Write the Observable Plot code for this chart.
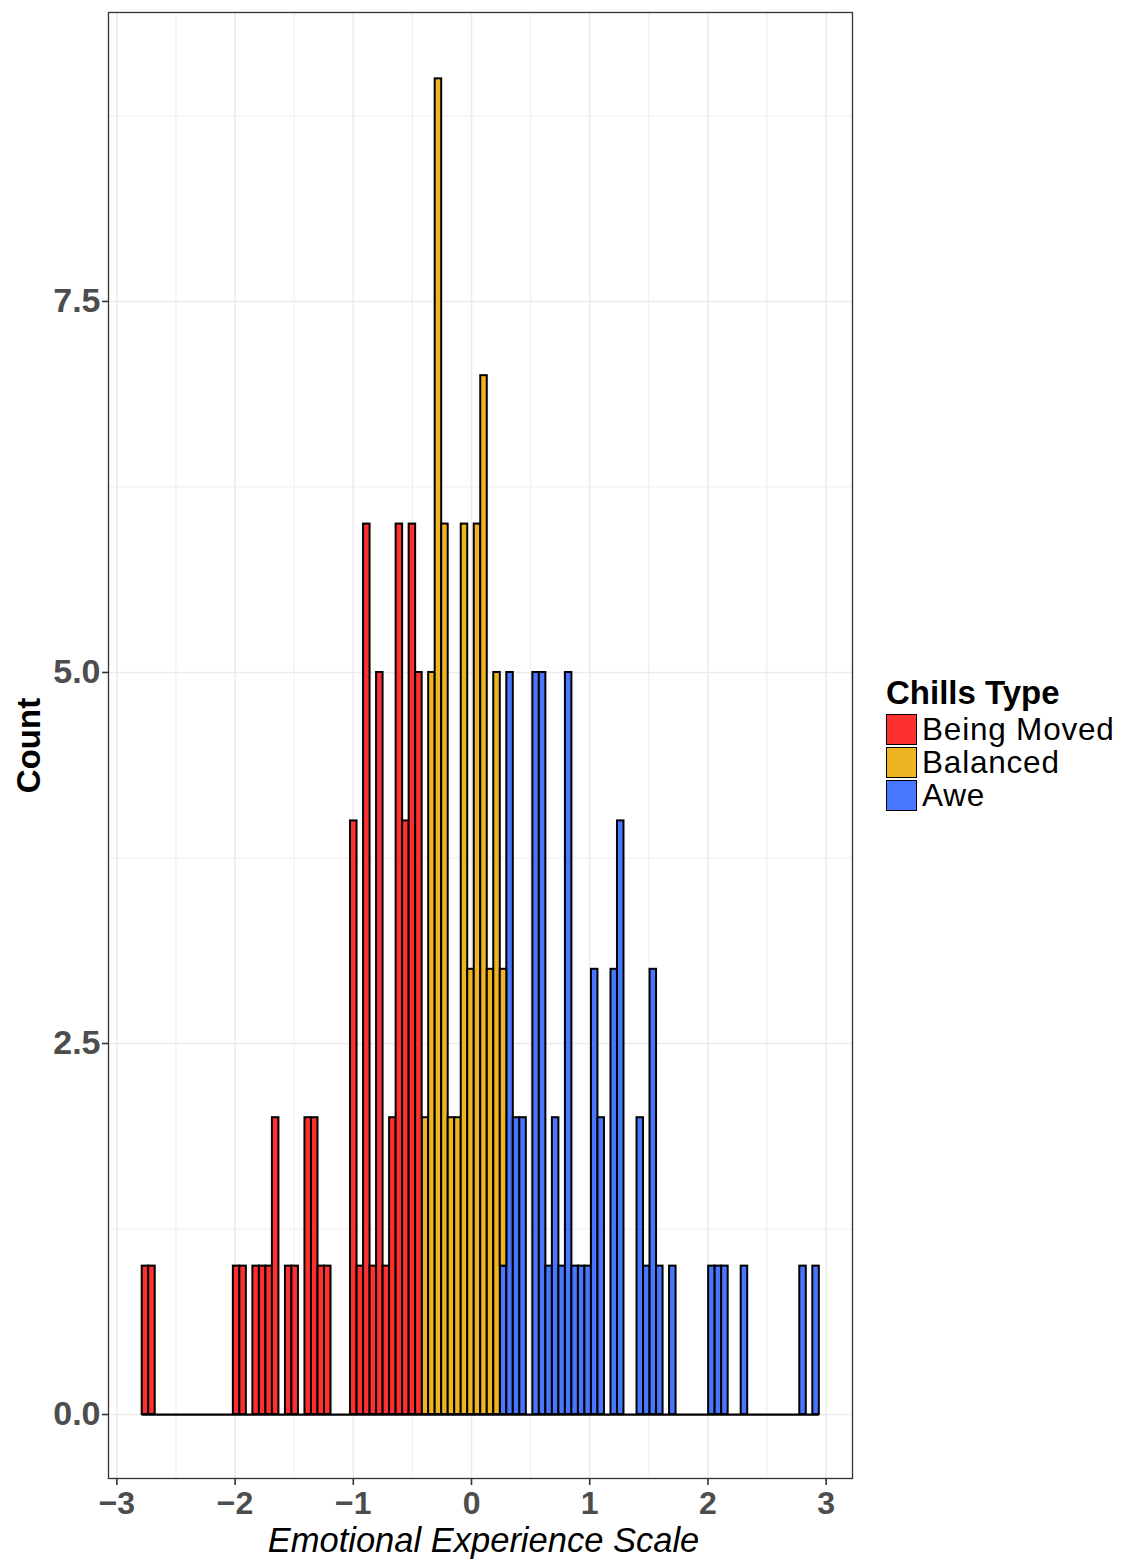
<!DOCTYPE html>
<html>
<head>
<meta charset="utf-8">
<script src="https://cdn.jsdelivr.net/npm/d3@7"></script>
<script src="https://cdn.jsdelivr.net/npm/@observablehq/plot@0.6"></script>
<style>
  html, body { margin: 0; padding: 0; background: #ffffff; }
  #wrap { position: relative; width: 1129px; height: 1560px; font-family: "Liberation Sans", Arial, Helvetica, sans-serif; }
  #chart svg { display: block; }
  #legend { position: absolute; left: 886px; top: 673px; color: #000; }
  #legend .title { font-weight: bold; font-size: 33px; line-height: 40px; height: 40px; white-space: nowrap; }
  #legend .item { display: flex; align-items: center; height: 33px; }
  #legend .key { width: 29px; height: 29px; border: 1.5px solid #000; box-sizing: content-box; margin-right: 5px; }
  #legend .lab { font-size: 31.5px; line-height: 31px; letter-spacing: 0.8px; white-space: nowrap; }
</style>
</head>
<body>
<div id="wrap">
  <div id="chart"></div>
  <div id="legend"></div>
</div>
<script>
// ---- Data ----
const groups = ["Being Moved", "Balanced", "Awe"];
const groupColors = ["#FF3030", "#EEB422", "#4876FF"];
const binStart = -2.786;     // left edge of first bin
const binWidth = 0.05508;    // bin width
const binCount = 104;        // total bins drawn (zero bins form baseline)

// counts per group, beginning at a given bin index
const movedFirstBin = 0;
const movedCounts = [1,1,0,0,0,0,0,0,0,0,0,0,0,0,1,1,0,1,1,1,2,0,1,1,0,2,2,1,1,0,0,0,4,1,6,1,5,1,2,6,4,6,5];
const balancedFirstBin = 43;
const balancedCounts = [2,5,9,6,2,2,6,3,6,7,3,5,2];
const aweFirstBin = 55;
const aweCounts = [1,5,2,2,0,5,5,1,2,1,5,1,1,1,3,2,0,3,4,0,0,2,1,3,1,0,1,0,0,0,0,0,1,1,1,0,0,1,0,0,0,0,0,0,0,0,1,0,1];

const xTicks = [-3, -2, -1, 0, 1, 2, 3];
const yTicks = [0, 2.5, 5, 7.5];
const xMinor = [-2.5, -1.5, -0.5, 0.5, 1.5, 2.5];
const yMinor = [1.25, 3.75, 6.25, 8.75];
const xTitle = "Emotional Experience Scale";
const yTitle = "Count";
const legendTitle = "Chills Type";

// ---- Build stacked rect table (Awe bottom, Balanced, Being Moved top) ----
const series = [
  {name: "Awe", first: aweFirstBin, counts: aweCounts},
  {name: "Balanced", first: balancedFirstBin, counts: balancedCounts},
  {name: "Being Moved", first: movedFirstBin, counts: movedCounts}
];
const stackTop = new Array(binCount).fill(0);
const bars = [];
for (const s of series) {
  s.counts.forEach((c, j) => {
    const b = s.first + j;
    if (c > 0) {
      bars.push({
        group: s.name,
        x1: binStart + b * binWidth,
        x2: binStart + (b + 1) * binWidth,
        y1: stackTop[b],
        y2: stackTop[b] + c
      });
      stackTop[b] += c;
    }
  });
}
const baseline = [{y: 0, x1: binStart, x2: binStart + binCount * binWidth}];

const fontFamily = '"Liberation Sans", Arial, Helvetica, sans-serif';
const intFmt = d => (d < 0 ? "\u2212" : "") + Math.abs(d);

const chart = Plot.plot({
  width: 1129,
  height: 1560,
  marginLeft: 108,
  marginRight: 277,
  marginTop: 12,
  marginBottom: 82,
  style: {fontFamily, background: "#ffffff", overflow: "visible"},
  x: {domain: [-3.071, 3.223]},
  y: {domain: [-0.431, 9.447]},
  color: {domain: groups, range: groupColors},
  marks: [
    Plot.gridX(xMinor, {stroke: "#ebebeb", strokeOpacity: 1, strokeWidth: 0.9}),
    Plot.gridY(yMinor, {stroke: "#ebebeb", strokeOpacity: 1, strokeWidth: 0.9}),
    Plot.gridX(xTicks, {stroke: "#ebebeb", strokeOpacity: 1, strokeWidth: 1.6}),
    Plot.gridY(yTicks, {stroke: "#ebebeb", strokeOpacity: 1, strokeWidth: 1.6}),
    Plot.ruleY(baseline, {y: "y", x1: "x1", x2: "x2", stroke: "#000", strokeWidth: 2.2}),
    Plot.rect(bars, {x1: "x1", x2: "x2", y1: "y1", y2: "y2", fill: "group", stroke: "#000", strokeWidth: 2}),
    Plot.frame({stroke: "#333333", strokeWidth: 1.3}),
    Plot.axisX(xTicks, {
      tickSize: 7, tickPadding: 6, fontSize: 32, fontWeight: "bold",
      tickFormat: intFmt,
      color: "#4d4d4d", stroke: "#333333", strokeWidth: 1.6, label: null
    }),
    Plot.axisY(yTicks, {
      tickSize: 6, tickPadding: 2, fontSize: 34, fontWeight: "bold",
      tickFormat: d => d.toFixed(1),
      color: "#4d4d4d", stroke: "#333333", strokeWidth: 1.6, label: null
    }),
    Plot.text([yTitle], {
      frameAnchor: "left", dx: -79, rotate: -90, fontSize: 33, fontWeight: "bold",
      fill: "#000", lineAnchor: "middle", textAnchor: "middle"
    }),
    Plot.text([xTitle], {
      frameAnchor: "bottom", dx: 3, dy: 62, fontSize: 34.5, fontStyle: "italic",
      fill: "#000", lineAnchor: "middle", textAnchor: "middle"
    })
  ]
});
document.getElementById("chart").appendChild(chart);

// ---- Legend ----
const legend = document.getElementById("legend");
const t = document.createElement("div");
t.className = "title";
t.textContent = legendTitle;
legend.appendChild(t);
groups.forEach((g, i) => {
  const item = document.createElement("div");
  item.className = "item";
  const key = document.createElement("div");
  key.className = "key";
  key.style.background = groupColors[i];
  const lab = document.createElement("span");
  lab.className = "lab";
  lab.textContent = g;
  item.appendChild(key);
  item.appendChild(lab);
  legend.appendChild(item);
});
</script>
</body>
</html>
